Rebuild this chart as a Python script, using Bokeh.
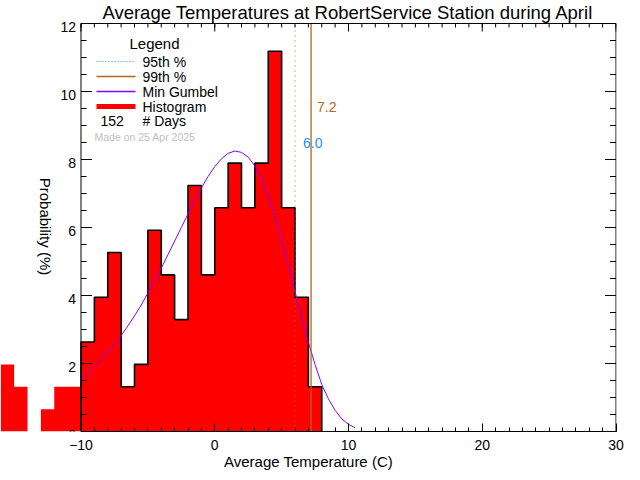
import numpy as np
from bokeh.plotting import figure
from bokeh.models import Range1d, LinearAxis, FixedTicker
from bokeh.core.properties import value
from bokeh.embed import file_html
from bokeh.resources import INLINE

# ---------------- data ----------------
bin_left = [-16, -15, -14, -13, -12, -11, -10, -9, -8, -7, -6, -5, -4, -3,
            -2, -1, 0, 1, 2, 3, 4, 5, 6, 7]
bin_days = [3, 2, 0, 1, 2, 2, 4, 6, 8, 2, 3, 9, 7, 5,
            11, 7, 10, 12, 10, 12, 17, 10, 6, 2]
n_days = 152
bin_width = 1.0

gumbel_x = [-10.0, -9.5, -9.0, -8.5, -8.0, -7.5, -7.0, -6.5, -6.0, -5.5,
            -5.0, -4.5, -4.0, -3.5, -3.0, -2.5, -2.0, -1.5, -1.0, -0.5,
            0.0, 0.5, 1.0, 1.5, 2.0, 2.5, 3.0, 3.5, 4.0, 4.5,
            5.0, 5.5, 6.0, 6.5, 7.0, 7.5, 8.0, 8.5, 9.0, 9.5, 10.0, 10.5]
gumbel_y = [1.54, 1.71, 1.90, 2.10, 2.32, 2.56, 2.82, 3.10, 3.40, 3.72,
            4.07, 4.43, 4.80, 5.20, 5.60, 6.00, 6.40, 6.79, 7.16, 7.50,
            7.79, 8.02, 8.18, 8.25, 8.21, 8.07, 7.81, 7.43, 6.93, 6.32,
            5.64, 4.89, 4.12, 3.35, 2.62, 1.97, 1.38, 0.96, 0.62, 0.37, 0.21, 0.11]

p95 = 6.0
p99 = 7.2

x_ticks = [-10, 0, 10, 20, 30]
x_minor = list(range(-10, 31))
y_ticks = [0, 2, 4, 6, 8, 10, 12]
y_minor = [i * 0.5 for i in range(0, 25)]
y_tick_labels = ["0", "2", "4", "6", "8", "10", "12"]

title_text = "Average Temperatures at RobertService Station during April"
x_label = "Average Temperature (C)"
y_label = "Probability (%)"
made_on = "Made on 25 Apr 2025"

# ---------------- styling ----------------
FONT = "Liberation Sans"
RED = "#ff0000"
BROWN = "#b4641e"
BLUE = "#1e90ff"
PURPLE = "#8800ff"

XMIN, XMAX, YMIN, YMAX = -10, 30, 0, 12
PXX = 13.375          # pixels per degree
PXY = 34.0            # pixels per percent
AX_LEFT_PX = 80.5     # pixel of x = -10
AX_TOP_PX = 23.0      # pixel of y = 12
FW, FH = 616, 431
X0 = XMIN - AX_LEFT_PX / PXX
X1 = X0 + FW / PXX
Y1 = YMAX + AX_TOP_PX / PXY
Y0 = Y1 - FH / PXY


def dx(px):
    return X0 + px / PXX


def dy(py):
    return Y1 - py / PXY


p = figure(frame_width=FW, frame_height=FH,
           x_range=Range1d(X0, X1), y_range=Range1d(Y0, Y1),
           x_axis_location=None, y_axis_location=None,
           output_backend="svg", toolbar_location=None,
           min_border_left=0, min_border_right=640 - FW, min_border_top=0,
           min_border_bottom=480 - FH, outline_line_color=None,
           background_fill_color="white", border_fill_color="white")
p.xgrid.visible = False
p.ygrid.visible = False

# histogram fill (one stepped polygon over all bins, including those left of the axis)
prob = [d / n_days * 100.0 for d in bin_days]
all_edges = np.array(bin_left + [bin_left[-1] + bin_width])
fx = np.repeat(all_edges, 2)
fy = np.concatenate([[0.0], np.repeat(prob, 2), [0.0]])
p.patch(fx, fy, fill_color=RED, line_color=None)

# histogram outline, only inside the axis range
in_left = [l for l in bin_left if l >= XMIN]
in_prob = [pr for l, pr in zip(bin_left, prob) if l >= XMIN]
edges = np.array(in_left + [in_left[-1] + bin_width])
ox = np.repeat(edges, 2)
oy = np.concatenate([[0.0], np.repeat(in_prob, 2), [0.0]])
p.line(ox, oy, line_color="black", line_width=1.6)

# gumbel curve
p.line(gumbel_x, gumbel_y, line_color=PURPLE, line_width=1)

# percentile lines
p.segment(x0=[p95], y0=[YMIN], x1=[p95], y1=[YMAX], line_color=BROWN,
          line_width=1, line_dash="1 4")
p.segment(x0=[p99], y0=[YMIN], x1=[p99], y1=[YMAX], line_color=BROWN,
          line_width=1.3)
p.text(x=[p99], y=[dy(106)], text=[f"{p99:.1f}"], x_offset=6,
       text_font=value(FONT), text_font_size="14px", text_color=BROWN,
       text_align="left", text_baseline="middle")
p.text(x=[p95], y=[dy(142)], text=[f"{p95:.1f}"], x_offset=8,
       text_font=value(FONT), text_font_size="14px", text_color=BLUE,
       text_align="left", text_baseline="middle")

# bottom axis: a real axis restricted to the data range
xb = LinearAxis(bounds=(XMIN, XMAX), ticker=FixedTicker(ticks=x_ticks, minor_ticks=x_minor),
                axis_line_color="black", axis_line_width=1,
                major_tick_line_color="black", minor_tick_line_color="black",
                major_tick_in=8, major_tick_out=0, minor_tick_in=4, minor_tick_out=0,
                major_label_text_font=FONT, major_label_text_color="black",
                major_label_text_font_size="14px", major_label_standoff=8,
                axis_label=x_label, axis_label_standoff=0,
                axis_label_text_font=FONT, axis_label_text_font_size="15px",
                axis_label_text_font_style="normal", axis_label_text_color="black")
p.add_layout(xb, "below")

# top axis (ticks only)
p.segment(x0=[XMIN], y0=[YMAX], x1=[XMAX], y1=[YMAX], line_color="black", line_width=1)
p.segment(x0=x_minor, y0=[YMAX] * len(x_minor), x1=x_minor,
          y1=[YMAX - 4 / PXY] * len(x_minor), line_color="black", line_width=1)
p.segment(x0=x_ticks, y0=[YMAX] * len(x_ticks), x1=x_ticks,
          y1=[YMAX - 8 / PXY] * len(x_ticks), line_color="black", line_width=1)

# right axis (ticks only)
p.segment(x0=[XMAX], y0=[YMIN], x1=[XMAX], y1=[YMAX], line_color="black", line_width=1)
p.segment(x0=[XMAX] * len(y_minor), y0=y_minor, x1=[XMAX - 6 / PXX] * len(y_minor),
          y1=y_minor, line_color="black", line_width=1)
p.segment(x0=[XMAX] * len(y_ticks), y0=y_ticks, x1=[XMAX - 11 / PXX] * len(y_ticks),
          y1=y_ticks, line_color="black", line_width=1)

# left axis at x = -10 (the frame is widened to show the bins left of it)
p.segment(x0=[XMIN], y0=[YMIN], x1=[XMIN], y1=[YMAX], line_color="black", line_width=1)
p.segment(x0=[XMIN] * len(y_minor), y0=y_minor, x1=[XMIN + 5.5 / PXX] * len(y_minor),
          y1=y_minor, line_color="black", line_width=1)
p.segment(x0=[XMIN] * len(y_ticks), y0=y_ticks, x1=[XMIN + 11 / PXX] * len(y_ticks),
          y1=y_ticks, line_color="black", line_width=1)
p.text(x=[XMIN] * len(y_ticks), y=y_ticks, text=y_tick_labels, x_offset=-5, y_offset=3,
       text_font=value(FONT), text_font_size="14px", text_color="black",
       text_align="right", text_baseline="middle")
p.text(x=[dx(45)], y=[dy(226)], text=[y_label], angle=-np.pi / 2,
       text_font=value(FONT), text_font_size="15px", text_color="black",
       text_align="center", text_baseline="middle")

# title
p.text(x=[dx(347.5)], y=[dy(11.5)], text=[title_text],
       text_font=value(FONT), text_font_size="18.5px", text_color="black",
       text_align="center", text_baseline="middle")

# legend (drawn by hand, like the reference)
lx0, lx1, ltx = dx(96), dx(135), dx(142)
p.text(x=[dx(129)], y=[dy(43)], text=["Legend"], text_font=value(FONT),
       text_font_size="15px", text_color="black", text_align="left", text_baseline="middle")
p.line([lx0, lx1], [dy(61), dy(61)], line_color=BLUE, line_width=1.2, line_dash="1 2")
p.line([lx0, lx1], [dy(76), dy(76)], line_color=BROWN, line_width=1.3)
p.line([lx0, lx1], [dy(91), dy(91)], line_color=PURPLE, line_width=1.3)
p.line([lx0, lx1], [dy(106), dy(106)], line_color=RED, line_width=5)
leg_labels = ["95th %", "99th %", "Min Gumbel", "Histogram", "# Days"]
leg_y = [dy(61), dy(76), dy(91), dy(106), dy(120)]
p.text(x=[ltx] * 5, y=leg_y, text=leg_labels, text_font=value(FONT),
       text_font_size="14px", text_color="black", text_align="left", text_baseline="middle")
p.text(x=[dx(100)], y=[dy(120)], text=[str(n_days)], text_font=value(FONT),
       text_font_size="14px", text_color="black", text_align="left", text_baseline="middle")
p.text(x=[dx(94)], y=[dy(136)], text=[made_on], text_font=value(FONT),
       text_font_size="10.5px", text_color="#c0c0c0", text_align="left", text_baseline="middle")

open("out.html", "w").write(file_html(p, INLINE))
